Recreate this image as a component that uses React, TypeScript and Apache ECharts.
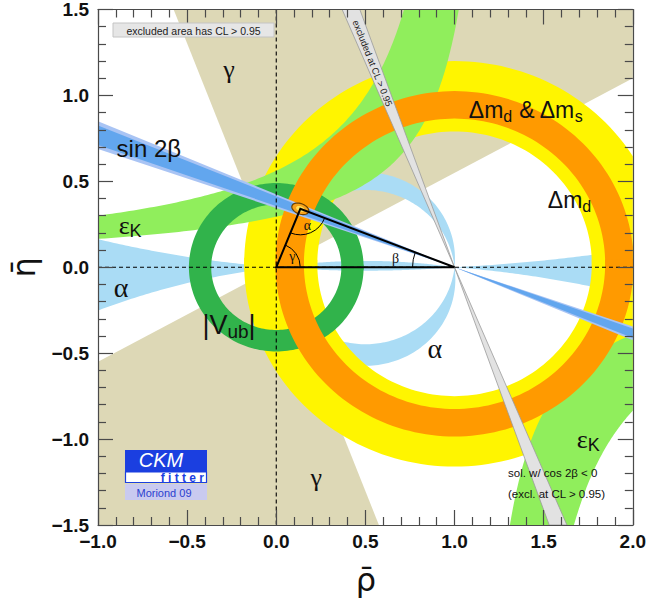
import React, { useEffect, useRef } from 'react';
import * as echarts from 'echarts';

type P = [number, number];

// ---- axes ----
const rhoRange: P = [-1, 2];
const etaRange: P = [-1.5, 1.5];
const tickStep = 0.5;

// ---- constraints ----
const gammaAngles = [28.8, 111]; // deg, wedge from (0,0), plus the mirrored one (+180)
const alphaUpperArcK = [0.05, -0.053]; // centre heights of circles through (0,0) and (1,0)
const alphaLowerArcK = [0.055, -0.069];
const alphaLensK = [-3.36, 6.24];
const alphaLeftWedgeK = [6.2, -4.1];
const alphaRightWedgeK = [9.5, -6.1];
const dmdRing = [1.0, 0.02, 0.77, 1.18]; // cx, cy, rIn, rOut
const dmsRing = [1.0, 0.02, 0.845, 1.005];
const vubRing = [0, 0, 0.365, 0.49];
const epsKUpper = [[1.146, 0.644], [1.274, 0.375]]; // [B, A] with eta = A/(B - rho)
const epsKLower = [[1.068, 0.364], [1.256, 0.621]];
const sin2bOuter = [19.0, 23.0]; // beta (deg)
const sin2bInner = [19.6, 22.4];
const sin2bExcluded = [67.2, 70.5];
const apex: P = [0.135, 0.34];
const fitEllipse = [0.05, 0.03, -22]; // semi-axes and tilt of the fit region

const SANS = "'Liberation Sans', Arial, Helvetica, sans-serif";
const SERIF = "'Liberation Serif', 'Times New Roman', serif";

// ---- geometry helpers (data space) ----
function clipPoly(pts: P[]): P[] {
  let out = pts;
  const planes: [number, number, number][] = [
    [0, rhoRange[0], 1],
    [0, rhoRange[1], -1],
    [1, etaRange[0], 1],
    [1, etaRange[1], -1],
  ];
  for (const [ax, v, s] of planes) {
    const inp = out;
    out = [];
    if (!inp.length) break;
    const inside = (p: P) => s * (p[ax] - v) >= 0;
    const inter = (a: P, b: P): P => {
      const t = (v - a[ax]) / (b[ax] - a[ax]);
      return [a[0] + t * (b[0] - a[0]), a[1] + t * (b[1] - a[1])];
    };
    for (let i = 0; i < inp.length; i++) {
      const cur = inp[i];
      const prev = inp[(i + inp.length - 1) % inp.length];
      const ci = inside(cur);
      const pi = inside(prev);
      if (ci) {
        if (!pi) out.push(inter(prev, cur));
        out.push(cur);
      } else if (pi) out.push(inter(prev, cur));
    }
  }
  return out;
}

function arcPts(k: number, upper: boolean, n = 120): P[] {
  const r = Math.hypot(0.5, k);
  const a0 = Math.PI + Math.atan(2 * k);
  const a1 = upper ? -Math.atan(2 * k) : 2 * Math.PI - Math.atan(2 * k);
  const out: P[] = [];
  for (let i = 0; i <= n; i++) {
    const t = a0 + ((a1 - a0) * i) / n;
    out.push([0.5 + r * Math.cos(t), k + r * Math.sin(t)]);
  }
  return out;
}

function circleY(k: number, x: number, sign: number) {
  const r2 = 0.25 + k * k;
  return k + sign * Math.sqrt(Math.max(0, r2 - (x - 0.5) * (x - 0.5)));
}

function extWedge(kU: number, kL: number, x0: number, x1: number, n = 80): P[] {
  const xs: number[] = [];
  for (let i = 0; i <= n; i++) xs.push(x0 + ((x1 - x0) * i) / n);
  const up = xs.map((x) => [x, circleY(kU, x, -1)] as P);
  const lo = xs.map((x) => [x, circleY(kL, x, 1)] as P).reverse();
  return up.concat(lo);
}

function annulus(cx: number, cy: number, r0: number, r1: number, n = 100): P[][] {
  const res: P[][] = [];
  for (const h of [0, 1]) {
    const a0 = h * Math.PI - 0.03;
    const a1 = (h + 1) * Math.PI + 0.03;
    const pts: P[] = [];
    for (let i = 0; i <= n; i++) {
      const t = a0 + ((a1 - a0) * i) / n;
      pts.push([cx + r1 * Math.cos(t), cy + r1 * Math.sin(t)]);
    }
    for (let i = n; i >= 0; i--) {
      const t = a0 + ((a1 - a0) * i) / n;
      pts.push([cx + r0 * Math.cos(t), cy + r0 * Math.sin(t)]);
    }
    res.push(pts);
  }
  return res;
}

function wedge(c: P, d0: number, d1: number, R = 6): P[] {
  const pts: P[] = [c];
  const steps = Math.max(2, Math.ceil(Math.abs(d1 - d0) / 3));
  for (let i = 0; i <= steps; i++) {
    const a = ((d0 + ((d1 - d0) * i) / steps) * Math.PI) / 180;
    pts.push([c[0] + R * Math.cos(a), c[1] + R * Math.sin(a)]);
  }
  return pts;
}

function hyperEdge(B: number, A: number, sgn: number, n = 160): P[] {
  const pts: P[] = [];
  const e0 = sgn > 0 ? A / (B + 1.3) : A / (2.3 - B);
  const e1 = 1.8;
  for (let i = 0; i <= n; i++) {
    const e = e0 * Math.pow(e1 / e0, i / n);
    pts.push([sgn > 0 ? B - A / e : B + A / e, sgn * e]);
  }
  return pts;
}

function hyperBand(edges: number[][], sgn: number): P[] {
  const a = hyperEdge(edges[0][0], edges[0][1], sgn);
  const b = hyperEdge(edges[1][0], edges[1][1], sgn).reverse();
  return a.concat(b);
}

function ellipsePts(c: P, a: number, b: number, tiltDeg: number, n = 48): P[] {
  const t0 = (tiltDeg * Math.PI) / 180;
  const pts: P[] = [];
  for (let i = 0; i < n; i++) {
    const t = (2 * Math.PI * i) / n;
    const x = a * Math.cos(t);
    const y = b * Math.sin(t);
    pts.push([c[0] + x * Math.cos(t0) - y * Math.sin(t0), c[1] + x * Math.sin(t0) + y * Math.cos(t0)]);
  }
  return pts;
}

// ---- layers ----
let zc = 3;
function polyLayer(polys: P[][], style: any) {
  const z = zc++;
  return {
    type: 'custom',
    coordinateSystem: 'cartesian2d',
    xAxisIndex: 0,
    yAxisIndex: 0,
    data: [[0, 0]],
    silent: true,
    clip: true,
    z,
    renderItem: (_p: any, api: any) => ({
      type: 'group',
      children: polys
        .map((pg) => clipPoly(pg))
        .filter((pg) => pg.length > 2)
        .map((pg) => ({
          type: 'polygon',
          shape: { points: pg.map((q) => api.coord(q)) },
          style,
        })),
    }),
  };
}

function buildOption() {
  zc = 3;
  const gammaPolys = [
    wedge([0, 0], gammaAngles[0], gammaAngles[1]),
    wedge([0, 0], gammaAngles[0] + 180, gammaAngles[1] + 180),
  ];
  const alphaPolys = [
    arcPts(alphaUpperArcK[0], true).concat(arcPts(alphaUpperArcK[1], true).reverse()),
    arcPts(alphaLowerArcK[1], false).concat(arcPts(alphaLowerArcK[0], false).reverse()),
    arcPts(alphaLensK[0], true).concat(arcPts(alphaLensK[1], false).reverse()),
    extWedge(alphaLeftWedgeK[0], alphaLeftWedgeK[1], 0, -1.3),
    extWedge(alphaRightWedgeK[0], alphaRightWedgeK[1], 1, 2.3),
  ];
  const b: P = [1, 0];
  const sinOuter = [
    wedge(b, 180 - sin2bOuter[1], 180 - sin2bOuter[0], 4),
    wedge(b, -sin2bOuter[1], -sin2bOuter[0], 4),
  ];
  const sinInner = [
    wedge(b, 180 - sin2bInner[1], 180 - sin2bInner[0], 4),
    wedge(b, -sin2bInner[1], -sin2bInner[0], 4),
  ];
  const excl = [
    wedge(b, 180 - sin2bExcluded[1], 180 - sin2bExcluded[0], 4),
    wedge(b, -sin2bExcluded[1], -sin2bExcluded[0], 4),
  ];

  const series: any[] = [
    polyLayer(gammaPolys, { fill: '#ddd8b6' }),
    polyLayer(alphaPolys, { fill: '#aadcf5' }),
    polyLayer(annulus(dmdRing[0], dmdRing[1], dmdRing[2], dmdRing[3]), { fill: '#fff500' }),
    polyLayer([hyperBand(epsKUpper, 1), hyperBand(epsKLower, -1)], { fill: '#90ee5c' }),
    polyLayer(annulus(vubRing[0], vubRing[1], vubRing[2], vubRing[3]), { fill: '#31b34b' }),
    polyLayer(annulus(dmsRing[0], dmsRing[1], dmsRing[2], dmsRing[3]), { fill: '#ff9a00' }),
    polyLayer(sinOuter, { fill: '#a9c4f4' }),
    polyLayer(sinInner, { fill: '#62a6ee' }),
    polyLayer(excl, { fill: '#e2e2e2', stroke: '#9a9a9a', lineWidth: 0.8 }),
    polyLayer([ellipsePts(apex, fitEllipse[0], fitEllipse[1], fitEllipse[2])], {
      fill: '#f7a21b',
      stroke: '#6a4000',
      lineWidth: 1.2,
    }),
    polyLayer([ellipsePts(apex, fitEllipse[0] * 0.5, fitEllipse[1] * 0.5, fitEllipse[2])], {
      fill: '#ffe15a',
    }),
  ];

  // dashed axes lines
  series.push({
    type: 'custom',
    coordinateSystem: 'cartesian2d',
    data: [[0, 0]],
    silent: true,
    z: zc++,
    renderItem: (_p: any, api: any) => {
      const l = api.coord([rhoRange[0], 0]);
      const r = api.coord([rhoRange[1], 0]);
      const t = api.coord([0, etaRange[1]]);
      const bt = api.coord([0, etaRange[0]]);
      const st = { stroke: '#000', lineWidth: 1.1, lineDash: [4, 3] };
      return {
        type: 'group',
        children: [
          { type: 'line', shape: { x1: l[0], y1: l[1], x2: r[0], y2: r[1] }, style: st },
          { type: 'line', shape: { x1: t[0], y1: t[1], x2: bt[0], y2: bt[1] }, style: st },
        ],
      };
    },
  });

  // triangle and angles
  series.push({
    type: 'custom',
    coordinateSystem: 'cartesian2d',
    data: [[0, 0]],
    silent: true,
    z: zc++,
    renderItem: (_p: any, api: any) => {
      const O = api.coord([0, 0]);
      const B = api.coord([1, 0]);
      const A = api.coord(apex);
      const ang = (p: number[], q: number[]) => Math.atan2(q[1] - p[1], q[0] - p[0]);
      const arcSt = { stroke: '#000', fill: 'none', lineWidth: 1 };
      const small = (text: string, x: number, y: number) => ({
        type: 'text',
        x,
        y,
        style: { text, font: `14px ${SERIF}`, fill: '#111', align: 'center', verticalAlign: 'middle' },
      });
      return {
        type: 'group',
        children: [
          {
            type: 'polygon',
            shape: { points: [O, B, A] },
            style: { fill: 'none', stroke: '#000', lineWidth: 2, lineJoin: 'miter' },
          },
          {
            type: 'arc',
            shape: { cx: A[0], cy: A[1], r: 26, startAngle: ang(A, B), endAngle: ang(A, O), clockwise: true },
            style: arcSt,
          },
          {
            type: 'arc',
            shape: { cx: O[0], cy: O[1], r: 24, startAngle: ang(O, A), endAngle: 0, clockwise: true },
            style: arcSt,
          },
          {
            type: 'arc',
            shape: { cx: B[0], cy: B[1], r: 42, startAngle: Math.PI, endAngle: ang(B, A) + 2 * Math.PI, clockwise: true },
            style: arcSt,
          },
          small('α', A[0] + 7, A[1] + 17),
          small('γ', O[0] + 16, O[1] - 11),
          small('β', B[0] - 59, B[1] - 9),
        ],
      };
    },
  });

  // labels
  const sub = (size: number, lh: number) => ({ fontSize: size, fontFamily: SANS, lineHeight: lh, verticalAlign: 'bottom', fill: '#111' });
  const main = (size: number, fam: string, lh: number) => ({ fontSize: size, fontFamily: fam, lineHeight: lh, fill: '#111' });
  const labels: any[] = [
    { at: [-0.265, 1.153], text: 'γ', font: `26px ${SERIF}` },
    { at: [0.225, -1.225], text: 'γ', font: `26px ${SERIF}` },
    { at: [-0.715, 0.692], text: 'sin 2β', font: `24px ${SANS}` },
    { at: [-0.87, -0.115], text: 'α', font: `28px ${SERIF}` },
    { at: [0.89, -0.47], text: 'α', font: `28px ${SERIF}` },
    { at: [-0.82, 0.245], text: '{e|ε}{k|K}', rich: { e: main(26, SERIF, 30), k: sub(18, 14) } },
    { at: [1.75, -1.0], text: '{e|ε}{k|K}', rich: { e: main(26, SERIF, 30), k: sub(18, 14) } },
    { at: [-0.265, -0.335], text: '{m||V}{s|ub}{m||}', rich: { m: main(27, SANS, 32), s: sub(19, 16) } },
    {
      at: [1.4, 0.915],
      text: '{m|Δm}{s|d}{m| & Δm}{s|s}',
      rich: { m: main(23, SANS, 28), s: sub(16, 13) },
    },
    { at: [1.645, 0.39], text: '{m|Δm}{s|d}', rich: { m: main(23, SANS, 28), s: sub(16, 13) } },
    { at: [1.3, -1.199], text: 'sol. w/ cos 2β < 0', font: `11.5px ${SANS}`, align: 'left' },
    { at: [1.3, -1.317], text: '(excl. at CL > 0.95)', font: `11.5px ${SANS}`, align: 'left' },
  ];
  series.push({
    type: 'custom',
    coordinateSystem: 'cartesian2d',
    data: [[0, 0]],
    silent: true,
    z: zc++,
    renderItem: (_p: any, api: any) => {
      const children: any[] = labels.map((lb) => {
        const p = api.coord(lb.at);
        const style: any = {
          text: lb.text,
          fill: '#111',
          align: lb.align || 'center',
          verticalAlign: 'middle',
        };
        if (lb.font) style.font = lb.font;
        if (lb.rich) style.rich = lb.rich;
        return { type: 'text', x: p[0], y: p[1], style };
      });
      // text along the excluded sin2beta band
      const mid = (sin2bExcluded[0] + sin2bExcluded[1]) / 2;
      const tn = Math.tan((mid * Math.PI) / 180);
      const eta = 1.188;
      const q1 = api.coord([1 - eta / tn, eta]);
      const q2 = api.coord([1, 0]);
      const rot = -Math.atan2(q2[1] - q1[1], q2[0] - q1[0]);
      children.push({
        type: 'text',
        x: q1[0],
        y: q1[1],
        rotation: rot,
        style: {
          text: 'excluded at CL > 0.95',
          font: `9.5px ${SANS}`,
          fill: '#222',
          align: 'center',
          verticalAlign: 'middle',
        },
      });
      // vertical axis title (rotated)
      const mid0 = api.coord([rhoRange[0], (etaRange[0] + etaRange[1]) / 2]);
      children.push({
        type: 'text',
        x: mid0[0] - 74,
        y: mid0[1],
        rotation: Math.PI / 2,
        style: {
          text: 'η\u0304',
          font: `32px 'DejaVu Sans', ${SANS}`,
          fill: '#111',
          align: 'center',
          verticalAlign: 'middle',
        },
      });
      return { type: 'group', children };
    },
  });

  const fmt = (v: number) => (v < 0 ? '−' : '') + Math.abs(v).toFixed(1);
  const tickCol = '#4a4a4a';
  const axisBase = (dim: 'x' | 'y', pos: string, showLabel: boolean) => ({
    type: 'value',
    min: dim === 'x' ? rhoRange[0] : etaRange[0],
    max: dim === 'x' ? rhoRange[1] : etaRange[1],
    interval: tickStep,
    position: pos,
    z: 50,
    axisLine: { show: true, onZero: false, lineStyle: { color: tickCol, width: 1.2 } },
    axisTick: { show: true, inside: true, length: 15, lineStyle: { color: tickCol, width: 1.2 } },
    minorTick: { show: true, splitNumber: 5, length: 8, lineStyle: { color: tickCol, width: 1.2 } },
    splitLine: { show: false },
    minorSplitLine: { show: false },
    axisLabel: {
      show: showLabel,
      formatter: fmt,
      fontSize: 19,
      fontWeight: 'bold',
      fontFamily: SANS,
      color: '#111',
      margin: dim === 'x' ? 7 : 9,
    },
  });

  return {
    animation: false,
    backgroundColor: '#ffffff',
    grid: { left: 98, right: 12, top: 8, bottom: 78, show: false },
    xAxis: [axisBase('x', 'bottom', true), axisBase('x', 'top', false)],
    yAxis: [axisBase('y', 'left', true), axisBase('y', 'right', false)],
    series,
    graphic: [
      {
        type: 'rect',
        z: 100,
        shape: { x: 113, y: 23, width: 161, height: 14 },
        style: { fill: '#e6e6e6', stroke: '#c4c4c4', lineWidth: 1 },
      },
      {
        type: 'text',
        z: 101,
        x: 193.5,
        y: 30.5,
        style: {
          text: 'excluded area has CL > 0.95',
          font: `10.5px ${SANS}`,
          fill: '#222',
          align: 'center',
          verticalAlign: 'middle',
        },
      },
      // CKMfitter logo
      { type: 'rect', z: 100, shape: { x: 125, y: 450, width: 82, height: 22 }, style: { fill: '#1b3fe0' } },
      {
        type: 'rect',
        z: 100,
        shape: { x: 125.5, y: 472, width: 81, height: 10.5 },
        style: { fill: '#ffffff', stroke: '#1b3fe0', lineWidth: 1.2 },
      },
      { type: 'rect', z: 100, shape: { x: 125, y: 484, width: 82, height: 16 }, style: { fill: '#c9caf0' } },
      {
        type: 'text',
        z: 101,
        x: 161,
        y: 460,
        style: {
          text: 'CKM',
          font: `italic 20px ${SANS}`,
          fill: '#ffffff',
          align: 'center',
          verticalAlign: 'middle',
        },
      },
      {
        type: 'text',
        z: 101,
        x: 204,
        y: 478,
        style: {
          text: 'f i t t e r',
          font: `bold 12px ${SANS}`,
          fill: '#1b3fe0',
          align: 'right',
          verticalAlign: 'middle',
        },
      },
      {
        type: 'text',
        z: 101,
        x: 164,
        y: 492.5,
        style: {
          text: 'Moriond 09',
          font: `11px ${SANS}`,
          fill: '#2a3fcf',
          align: 'center',
          verticalAlign: 'middle',
        },
      },
      // horizontal axis title
      {
        type: 'text',
        z: 101,
        x: 366,
        y: 580,
        style: {
          text: 'ρ\u0304',
          font: `32px 'DejaVu Sans', ${SANS}`,
          fill: '#111',
          align: 'center',
          verticalAlign: 'middle',
        },
      },
    ],
  };
}

export default function App() {
  const ref = useRef<HTMLDivElement>(null);
  useEffect(() => {
    if (!ref.current) return;
    const chart = echarts.init(ref.current, null, { renderer: 'svg' });
    chart.setOption(buildOption() as any);
    return () => chart.dispose();
  }, []);
  return (
    <div
      ref={ref}
      style={{ position: 'fixed', left: 0, top: 0, width: 649, height: 603, background: '#ffffff' }}
    />
  );
}
